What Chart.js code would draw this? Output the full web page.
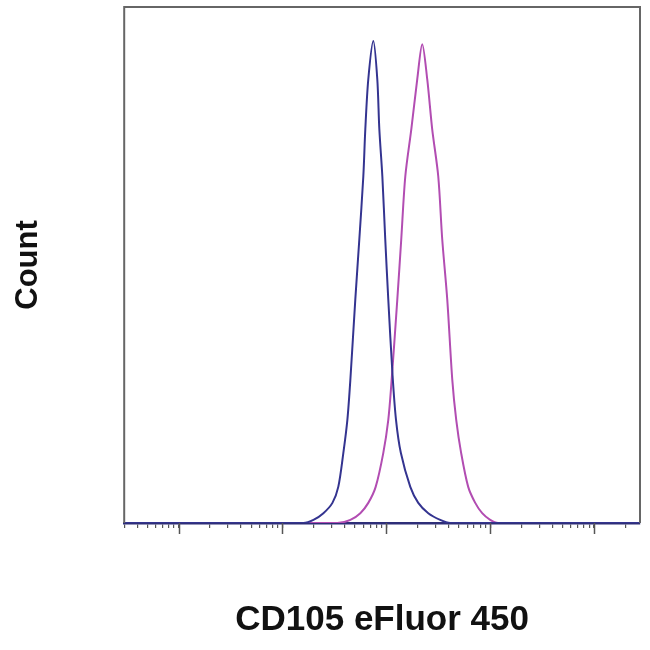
<!DOCTYPE html>
<html>
<head>
<meta charset="utf-8">
<script src="https://cdn.jsdelivr.net/npm/chart.js@4"></script>
<style>
  body { margin: 0; background: #fff; }
</style>
</head>
<body>
<canvas id="histo" width="650" height="650"></canvas>
<script>
// Histogram values (x = fluorescence, y = % of max count)
const blueX = [3, 159, 199, 248, 303, 345, 386, 422, 451, 503, 550, 601, 628, 671, 750,
               819, 857, 916, 977, 1045, 1150, 1240, 1380, 1702, 2031, 2535, 3304, 4121, 276700];
const blueY = [0, 0, 0.6, 1.9, 3.9, 7.0, 13.6, 20.0, 27.8, 43.3, 55.0, 67.2, 76.3, 86.0, 93.4,
               86.0, 76.3, 67.2, 55.0, 43.3, 28.5, 20.0, 13.6, 7.0, 3.9, 1.9, 0.6, 0, 0];

const pinkX = [3, 338, 451, 562, 671, 790, 936, 1045, 1117, 1276, 1393, 1524, 1740, 1986, 2218,
               2477, 2767, 3162, 3454, 3862, 4315, 4710, 5250, 6142, 7178, 8375, 10000, 11940, 276700];
const pinkY = [0, 0, 0.6, 1.9, 3.9, 7.0, 13.6, 20.0, 26.8, 43.3, 55.0, 67.2, 76.3, 86.0, 92.8,
               86.0, 76.3, 67.2, 55.0, 43.3, 27.8, 20.0, 13.6, 7.0, 3.9, 1.9, 0.6, 0, 0];

// axis range and tick scheme (no tick labels in the original)
const xMin = 3;
const xMax = 276700;
const decades = [1, 10, 100, 1000, 10000, 100000];
const steps = [1, 2, 3, 4, 5, 6, 7, 8, 9];

const xTitle = 'CD105 eFluor 450';
const yTitle = 'Count';

const toPoints = (xs, ys) => xs.map((x, i) => ({ x: x, y: ys[i] }));

// frame around the plot + long ticks at each decade
const framePlugin = {
  id: 'frame',
  afterDatasetsDraw(chart) {
    const { ctx, chartArea } = chart;
    const xs = chart.scales.x;
    ctx.save();
    ctx.strokeStyle = '#666';
    ctx.lineWidth = 2;
    ctx.beginPath();
    ctx.moveTo(chartArea.left, chartArea.bottom);
    ctx.lineTo(chartArea.left, chartArea.top);
    ctx.lineTo(chartArea.right, chartArea.top);
    ctx.lineTo(chartArea.right, chartArea.bottom);
    ctx.stroke();
    ctx.strokeStyle = '#555';
    ctx.lineWidth = 1.5;
    decades.filter(d => d >= xMin && d <= xMax).forEach(d => {
      const px = Math.round(xs.getPixelForValue(d)) + 0.5;
      ctx.beginPath();
      ctx.moveTo(px, chartArea.bottom);
      ctx.lineTo(px, chartArea.bottom + 11);
      ctx.stroke();
    });
    ctx.restore();
  }
};

new Chart(document.getElementById('histo'), {
  type: 'line',
  data: {
    datasets: [
      {
        label: 'stained',
        data: toPoints(blueX, blueY),
        borderColor: '#343490',
        borderWidth: 2,
        pointRadius: 0,
        tension: 0.3
      },
      {
        label: 'control',
        data: toPoints(pinkX, pinkY),
        borderColor: '#b24db2',
        borderWidth: 2,
        pointRadius: 0,
        tension: 0.3
      }
    ]
  },
  options: {
    responsive: false,
    animation: false,
    layout: { padding: { left: 4, right: 10, top: 7, bottom: 4 } },
    plugins: {
      legend: { display: false },
      tooltip: { enabled: false }
    },
    scales: {
      x: {
        type: 'logarithmic',
        min: xMin,
        max: xMax,
        afterBuildTicks(scale) {
          const ticks = [];
          decades.forEach(d => steps.forEach(s => {
            const v = d * s;
            if (v >= xMin && v <= xMax) ticks.push({ value: v });
          }));
          scale.ticks = ticks;
        },
        border: { display: true, color: '#2e2e78', width: 2.5 },
        grid: {
          drawOnChartArea: false,
          drawTicks: true,
          tickLength: 5,
          color: '#555',
          lineWidth: 1.2
        },
        ticks: { display: false, autoSkip: false },
        title: {
          display: true,
          text: xTitle,
          color: '#111',
          font: { family: 'Liberation Sans, Arial, sans-serif', size: 35, weight: 'bold' },
          padding: { top: 71, bottom: 5 }
        }
      },
      y: {
        min: 0,
        max: 100,
        border: { display: false },
        grid: { display: false },
        ticks: { display: false },
        title: {
          display: true,
          text: yTitle,
          color: '#111',
          font: { family: 'Liberation Sans, Arial, sans-serif', size: 31, weight: 'bold' },
          padding: { top: 6, bottom: 69 }
        }
      }
    }
  },
  plugins: [framePlugin]
});
</script>
</body>
</html>
